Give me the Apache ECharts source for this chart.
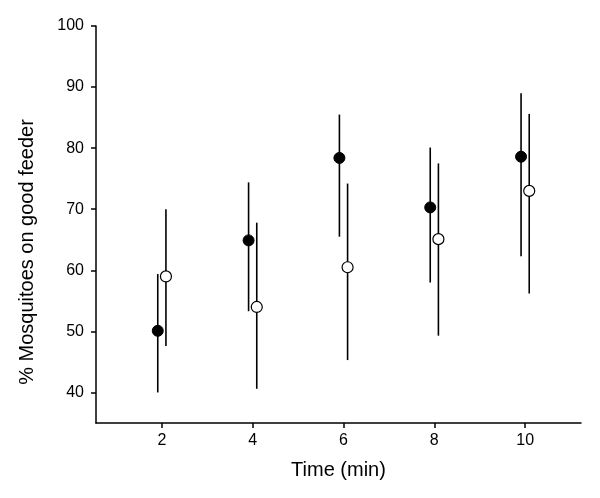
<!DOCTYPE html>
<html><head><meta charset="utf-8">
<script src="https://cdn.jsdelivr.net/npm/echarts@6/dist/echarts.min.js"></script>
<style>html,body{margin:0;padding:0;background:#fff}#c{width:600px;height:498px}</style>
</head><body><div id="c"></div>
<script>
const times = [2, 4, 6, 8, 10];
const filledMean = [50.1, 64.9, 78.4, 70.3, 78.6];
const filledLow  = [40.0, 53.3, 65.5, 58.0, 62.3];
const filledHigh = [59.4, 74.4, 85.5, 80.1, 89.0];
const openMean = [59.0, 54.0, 60.5, 65.1, 73.0];
const openLow  = [47.6, 40.6, 45.3, 49.3, 56.2];
const openHigh = [70.0, 67.8, 74.2, 77.5, 85.6];
const yTicks = [40, 50, 60, 70, 80, 90, 100];
const xTicks = [2, 4, 6, 8, 10];
const yTitle = '% Mosquitoes on good feeder';
const xTitle = 'Time (min)';
const offset = 0.09;

const font = 'Liberation Sans, Arial, sans-serif';
function errData(means, lows, highs, off) {
  return times.map((t, i) => [t + off, lows[i], highs[i], means[i]]);
}
function errSeries(data) {
  return {
    type: 'custom',
    data: data,
    z: 1,
    renderItem: function (params, api) {
      const p1 = api.coord([api.value(0), api.value(1)]);
      const p2 = api.coord([api.value(0), api.value(2)]);
      return { type: 'line', shape: { x1: p1[0], y1: p1[1], x2: p2[0], y2: p2[1] },
        style: { stroke: '#000', lineWidth: 1.6 } };
    }
  };
}
const chart = echarts.init(document.getElementById('c'), null, { renderer: 'canvas' });
chart.setOption({
  animation: false,
  backgroundColor: '#fff',
  grid: { left: 96, right: 19, top: 26, bottom: 75, containLabel: false },
  graphic: [{
    type: 'text', x: 27, y: 252, rotation: Math.PI / 2,
    style: { text: yTitle, fontFamily: font, fontSize: 20, fill: '#000',
      textAlign: 'center', textVerticalAlign: 'middle' }
  }],
  xAxis: {
    type: 'value', min: 0.55, max: 11.23,
    name: xTitle, nameLocation: 'middle', nameGap: 37,
    nameTextStyle: { fontFamily: font, fontSize: 20, color: '#000' },
    axisLine: { show: true, onZero: false, lineStyle: { color: '#000', width: 1.5 } },
    axisTick: { show: true, length: 5, lineStyle: { color: '#000', width: 1.5 },
      customValues: xTicks },
    axisLabel: { fontFamily: font, fontSize: 16, color: '#000', margin: 10,
      customValues: xTicks },
    splitLine: { show: false }
  },
  yAxis: {
    type: 'value', min: 35, max: 100,
    axisLine: { show: true, onZero: false, lineStyle: { color: '#000', width: 1.5 } },
    axisTick: { show: true, length: 5, lineStyle: { color: '#000', width: 1.5 },
      customValues: yTicks },
    axisLabel: { fontFamily: font, fontSize: 16, color: '#000', margin: 12,
      customValues: yTicks },
    splitLine: { show: false }
  },
  series: [
    errSeries(errData(filledMean, filledLow, filledHigh, -offset)),
    errSeries(errData(openMean, openLow, openHigh, offset)),
    {
      type: 'scatter', z: 3, symbol: 'circle', symbolSize: 11,
      itemStyle: { color: '#000', borderColor: '#000', borderWidth: 1, opacity: 1 },
      data: times.map((t, i) => [t - offset, filledMean[i]])
    },
    {
      type: 'scatter', z: 3, symbol: 'circle', symbolSize: 11,
      itemStyle: { color: '#fff', borderColor: '#000', borderWidth: 1.2, opacity: 1 },
      data: times.map((t, i) => [t + offset, openMean[i]])
    }
  ]
});
</script></body></html>
